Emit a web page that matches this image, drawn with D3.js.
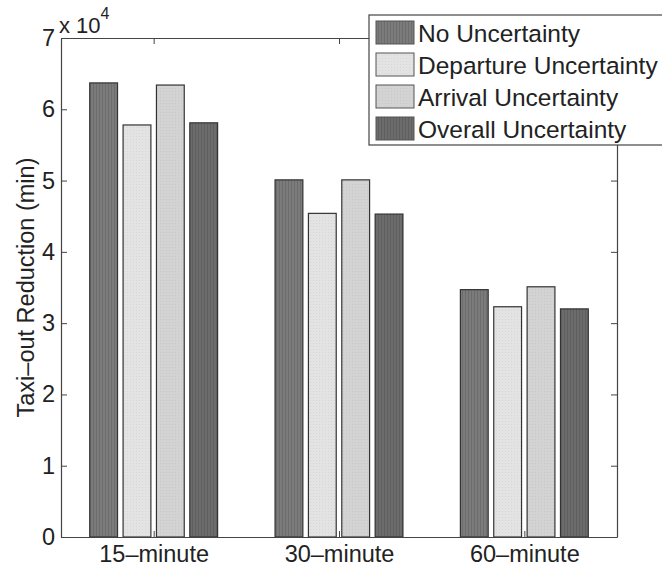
<!DOCTYPE html>
<html><head><meta charset="utf-8">
<script src="https://cdn.jsdelivr.net/npm/d3@7"></script>
<style>body{margin:0;background:#fff}svg{display:block}text{font-family:"Liberation Sans",Arial,sans-serif;fill:#222}</style>
</head><body>
<script>
const categories = ["15–minute", "30–minute", "60–minute"];
const seriesNames = ["No Uncertainty", "Departure Uncertainty", "Arrival Uncertainty", "Overall Uncertainty"];
const noUnc = [63700, 50100, 34700];
const depUnc = [57800, 45400, 32300];
const arrUnc = [63400, 50100, 35100];
const allUnc = [58100, 45300, 32000];
const yTicks = [0, 1, 2, 3, 4, 5, 6, 7];
const seriesValues = [noUnc, depUnc, arrUnc, allUnc];
const fills = ["#7b7b7b", "#e3e3e3", "#d3d3d3", "#6c6c6c"];

const W = 662, H = 571;
const m = {l: 61, t: 38, r: 45, b: 34};
const svg = d3.select("body").append("svg").attr("width", W).attr("height", H);

// texture patterns
const defs = svg.append("defs");
fills.forEach((c, i) => {
  const p = defs.append("pattern").attr("id", "pat" + i).attr("patternUnits", "userSpaceOnUse")
    .attr("width", 3).attr("height", 3);
  p.append("rect").attr("width", 3).attr("height", 3).attr("fill", c);
  if (i === 0 || i === 3) {
    p.append("rect").attr("width", 1).attr("height", 3).attr("fill", d3.color(c).darker(0.35));
  } else {
    p.append("rect").attr("x", 1).attr("y", 1).attr("width", 1).attr("height", 1).attr("fill", d3.color(c).darker(0.15));
  }
});

const x = d3.scaleLinear().domain([0.5, 3.5]).range([m.l, W - m.r]);
const y = d3.scaleLinear().domain([0, 7e4]).range([H - m.b, m.t]);

const pitch = 0.18, bw = 0.15;
const g = svg.append("g");
seriesValues.forEach((vals, si) => {
  g.selectAll(null).data(vals).enter().append("rect")
    .attr("x", (d, ci) => x(ci + 1 + (si - 1.5) * pitch - bw / 2))
    .attr("width", (d, ci) => x(ci + 1 + bw / 2) - x(ci + 1 - bw / 2))
    .attr("y", d => y(d))
    .attr("height", d => y(0) - y(d))
    .attr("fill", `url(#pat${si})`)
    .attr("stroke", "#333").attr("stroke-width", 1.2);
});

// axes
const yAx = d3.scaleLinear().domain([0, 7]).range([H - m.b, m.t]);
const axLeft = svg.append("g").attr("transform", `translate(${m.l},0)`)
  .call(d3.axisLeft(yAx).tickValues(yTicks).tickFormat(d3.format("d")).tickSizeInner(-6).tickSizeOuter(0).tickPadding(6));
const axRight = svg.append("g").attr("transform", `translate(${W - m.r},0)`)
  .call(d3.axisRight(yAx).tickValues(yTicks).tickFormat("").tickSizeInner(-6).tickSizeOuter(0));
const axBottom = svg.append("g").attr("transform", `translate(0,${H - m.b})`)
  .call(d3.axisBottom(x).tickValues([1, 2, 3]).tickFormat((d, i) => categories[i]).tickSizeInner(-6).tickSizeOuter(0).tickPadding(8));
const axTop = svg.append("g").attr("transform", `translate(0,${m.t})`)
  .call(d3.axisTop(x).tickValues([1, 2, 3]).tickFormat("").tickSizeInner(-6).tickSizeOuter(0));
[axLeft, axRight, axBottom, axTop].forEach(a => {
  a.selectAll("path").attr("stroke", "#444").attr("stroke-width", 1.2);
  a.selectAll("line").attr("stroke", "#444");
  a.selectAll("text").attr("font-size", 23.5).attr("fill", "#222")
    .style("font-family", '"Liberation Sans",Arial,sans-serif');
});

// exponent
const ex = svg.append("text").attr("x", 59).attr("y", 33).attr("font-size", 22);
ex.append("tspan").text("x 10");
ex.append("tspan").attr("dy", -14).attr("font-size", 16).text("4");

// y label
svg.append("text").attr("transform", `translate(26,${(m.t + H - m.b) / 2}) rotate(-90)`)
  .attr("text-anchor", "middle").attr("dominant-baseline", "central").attr("font-size", 23.5)
  .text("Taxi–out Reduction (min)");

// legend
const lg = svg.append("g").attr("transform", "translate(369,15)");
lg.append("rect").attr("width", 310).attr("height", 130).attr("fill", "#fff").attr("stroke", "#444").attr("stroke-width", 1.2);
seriesNames.forEach((n, i) => {
  lg.append("rect").attr("x", 7).attr("y", 6 + i * 32).attr("width", 38).attr("height", 23)
    .attr("fill", `url(#pat${i})`).attr("stroke", "#555");
  lg.append("text").attr("x", 49).attr("y", 18 + i * 32).attr("dominant-baseline", "central")
    .attr("font-size", 24.5).text(n);
});
</script>
</body></html>
